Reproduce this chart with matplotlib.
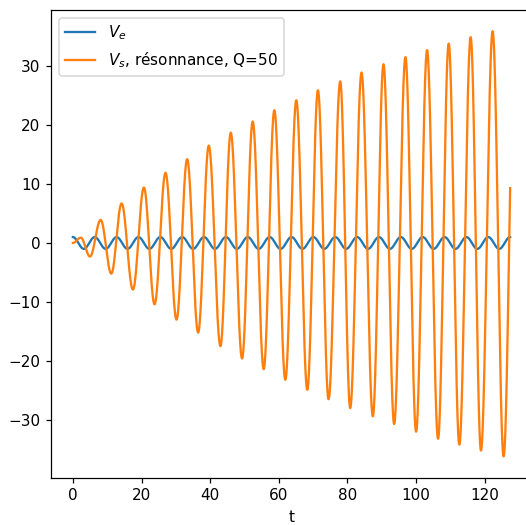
import numpy as np
import matplotlib
matplotlib.use("Agg")
import matplotlib.pyplot as plt

# ---- values ----
t_end = 127.4
ve_amplitude = 1.0
ve_period = 6.37

vs_peak_t = [2.3, 8.1, 14.2, 20.7, 27.0, 33.3, 39.6, 46.0, 52.4, 58.7,
             65.1, 71.4, 77.9, 84.1, 90.5, 96.9, 103.2, 109.5, 115.9, 122.3]
vs_peak_v = [0.9, 3.9, 6.7, 9.4, 11.9, 14.2, 16.5, 18.7, 20.6, 22.5,
             24.2, 25.9, 27.4, 28.9, 30.3, 31.5, 32.7, 33.8, 34.9, 35.9]
vs_trough_t = [5.0, 11.2, 17.5, 23.8, 30.2, 36.5, 43.0, 49.3, 55.6, 61.9,
               68.3, 74.5, 80.8, 87.4, 93.6, 100.0, 106.4, 112.6, 118.9, 125.5]
vs_trough_v = [-2.3, -5.2, -7.9, -10.4, -13.0, -15.2, -17.5, -19.6, -21.4, -23.2,
               -24.9, -26.5, -28.0, -29.4, -30.7, -32.0, -33.2, -34.2, -35.2, -36.2]
vs_start_v = 0.0
vs_end_v = 9.3


def smooth_through(nodes_t, nodes_v, n=80):
    """Draw a smooth oscillation through successive extrema (half-cosine arcs)."""
    ts, vs = [], []
    for i in range(len(nodes_t) - 1):
        ta, tb = nodes_t[i], nodes_t[i + 1]
        va, vb = nodes_v[i], nodes_v[i + 1]
        s = np.linspace(0, 1, n, endpoint=False)
        ts.append(ta + (tb - ta) * s)
        vs.append(va + (vb - va) * (1 - np.cos(np.pi * s)) / 2)
    ts.append([nodes_t[-1]])
    vs.append([nodes_v[-1]])
    return np.concatenate(ts), np.concatenate(vs)


# Ve nodes: extrema every half period
n_half = int(round(t_end / (ve_period / 2)))
ve_t_nodes = [k * ve_period / 2 for k in range(n_half + 1)]
ve_v_nodes = [ve_amplitude * (1 if k % 2 == 0 else -1) for k in range(n_half + 1)]
t_ve, v_ve = smooth_through(ve_t_nodes, ve_v_nodes)

# Vs nodes: start, alternating peaks and troughs
vs_t_nodes = [0.0]
vs_v_nodes = [vs_start_v]
for pt, pv, tt, tv in zip(vs_peak_t, vs_peak_v, vs_trough_t, vs_trough_v):
    vs_t_nodes += [pt, tt]
    vs_v_nodes += [pv, tv]
t_vs, v_vs = smooth_through(vs_t_nodes, vs_v_nodes)

# final partial rise from last trough to the end point
half = ve_period / 2
ta, va = vs_trough_t[-1], vs_trough_v[-1]
dt = t_end - ta
A = (vs_end_v - va) / (1 - np.cos(np.pi * dt / half))
tt = np.linspace(ta, t_end, 60)
vv = va + A * (1 - np.cos(np.pi * (tt - ta) / half))
t_vs = np.concatenate([t_vs, tt[1:]])
v_vs = np.concatenate([v_vs, vv[1:]])

DPI = 110
fig = plt.figure(figsize=(526 / DPI, 525 / DPI), dpi=DPI)
ax = fig.add_axes([51 / 526, (525 - 477.7) / 525, 481 / 526, (477.7 - 10) / 525])
ax.plot(t_ve, v_ve, label=r"$V_e$")
ax.plot(t_vs, v_vs, label=r"$V_s$, résonnance, Q=50")
ax.set_xlabel("t")
ax.set_yticks([-30, -20, -10, 0, 10, 20, 30])
ax.set_xticks([0, 20, 40, 60, 80, 100, 120])
ax.legend(loc="upper left")
fig.savefig("out.png", dpi=DPI)
